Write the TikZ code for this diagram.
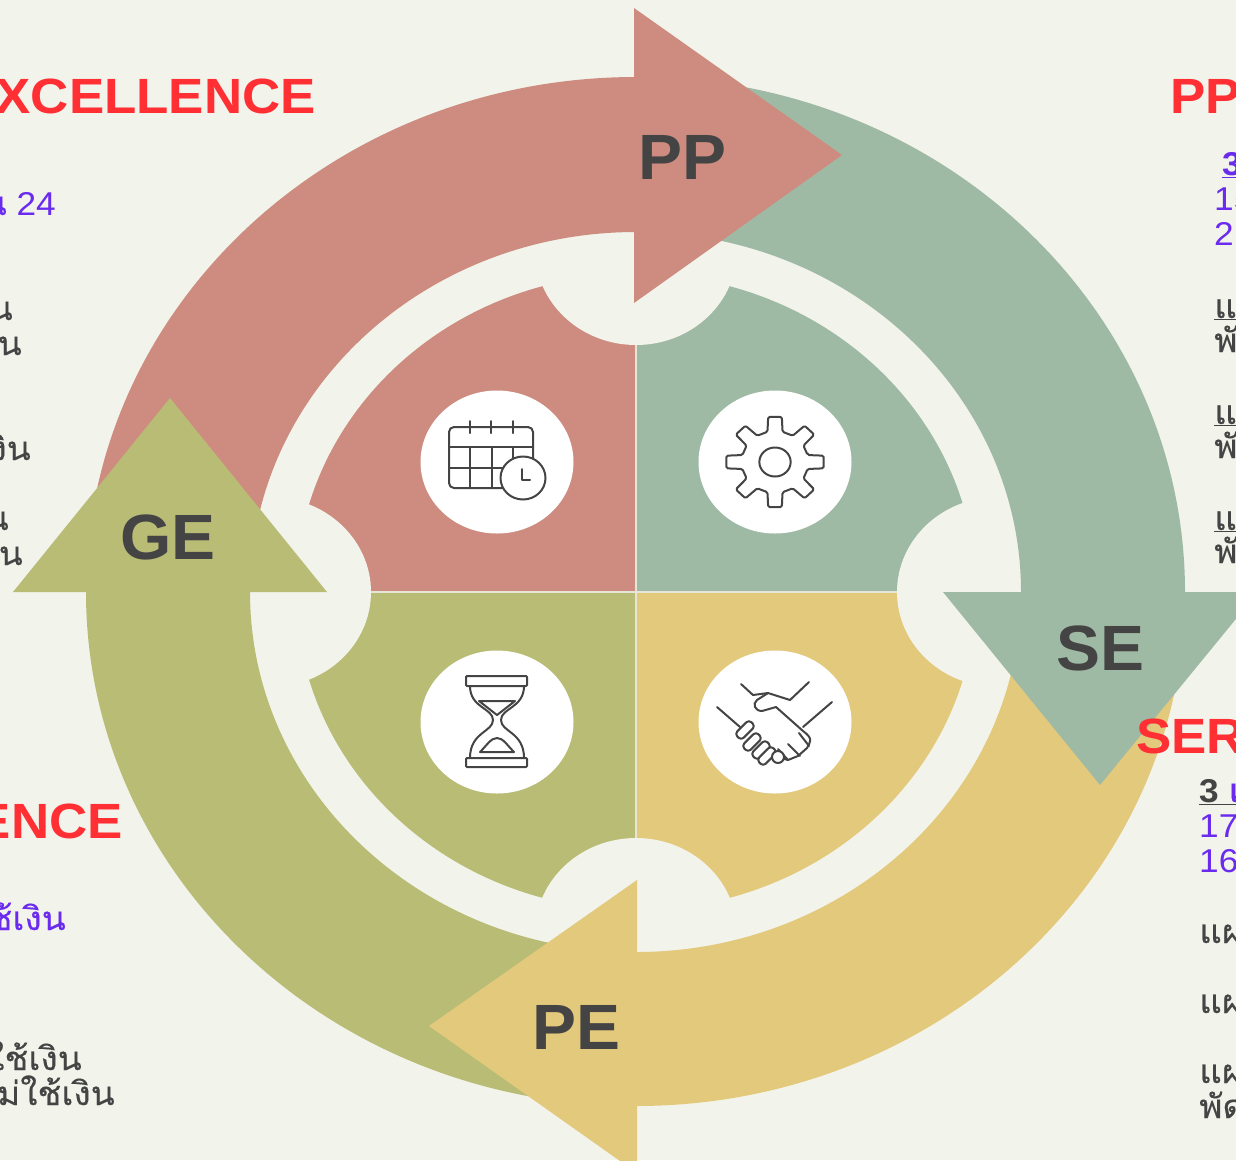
\documentclass[tikz,border=0pt]{standalone}
\usepackage{fontspec}
\usepackage{graphicx}
\setmainfont{Liberation Sans}
\newfontfamily\thaifont[Script=Thai,FakeBold=0.25]{Loma}
\definecolor{bgc}{HTML}{F2F3EB}
\definecolor{pinkc}{HTML}{CD8C7F}
\definecolor{greenc}{HTML}{9FBAA4}
\definecolor{yellowc}{HTML}{E3C97C}
\definecolor{olivec}{HTML}{B9BC75}
\definecolor{redc}{HTML}{FF2F33}
\definecolor{purplec}{HTML}{6A2BEF}
\definecolor{darkc}{HTML}{444444}
\definecolor{linec}{HTML}{E6E6D6}
\newcommand{\wideT}[1]{\scalebox{1.068}[1]{#1}}
\newcommand{\wideL}[1]{\scalebox{1.03}[1]{#1}}
\newcommand{\titlefs}{\fontsize{49.5}{49.5}\selectfont\bfseries}
\newcommand{\bodyfs}{\fontsize{33}{33}\selectfont}
\newcommand{\thaifs}{\fontsize{33}{33}\selectfont\thaifont}
\tikzset{
  titletext/.style={inner sep=0pt,text=redc,font=\titlefs},
  bodyp/.style={inner sep=0pt,text=purplec,font=\bodyfs},
  bodyd/.style={inner sep=0pt,text=darkc,font=\thaifs},
  biglabel/.style={inner sep=0pt,text=darkc,font=\fontsize{64}{64}\selectfont\bfseries},
  iconline/.style={draw=darkc,line width=2pt,line join=round,line cap=round},
  whitedisc/.style={fill=white,draw=none}
}
\begin{document}
\begin{tikzpicture}[x=1pt,y=-1pt]
\useasboundingbox (0,0) rectangle (1236,1160);
\clip (0,0) rectangle (1236,1160);
\fill[bgc] (0,0) rectangle (1236,1160);
% inner quadrants
\fill[pinkc] (636,592) -- (636,274) arc[start angle=90,end angle=180,x radius=340pt,y radius=318pt] -- cycle;
\fill[greenc] (636,592) -- (636,274) arc[start angle=90,end angle=0,x radius=340pt,y radius=318pt] -- cycle;
\fill[yellowc] (636,592) -- (636,910) arc[start angle=-90,end angle=0,x radius=340pt,y radius=318pt] -- cycle;
\fill[olivec] (636,592) -- (636,910) arc[start angle=-90,end angle=-180,x radius=340pt,y radius=318pt] -- cycle;
\draw[linec,line width=2pt] (636,274) -- (636,910) (296,592) -- (976,592);
% notches
\fill[bgc] (636,250) ellipse[x radius=101pt,y radius=95pt];
\fill[bgc] (636,933) ellipse[x radius=101pt,y radius=95pt];
\fill[bgc] (270,592) ellipse[x radius=101pt,y radius=95pt];
\fill[bgc] (998,592) ellipse[x radius=101pt,y radius=95pt];
% bands
\fill[pinkc] (636,77) arc[start angle=90,end angle=180,x radius=550pt,y radius=515pt] -- (250,592) arc[start angle=180,end angle=90,x radius=386pt,y radius=360pt] -- cycle;
\fill[greenc] (636,77) arc[start angle=90,end angle=0,x radius=549pt,y radius=515pt] -- (1021,592) arc[start angle=0,end angle=90,x radius=385pt,y radius=360pt] -- cycle;
\fill[yellowc] (1185,592) arc[start angle=0,end angle=-90,x radius=549pt,y radius=514pt] -- (636,952) arc[start angle=-90,end angle=0,x radius=385pt,y radius=360pt] -- cycle;
\fill[olivec] (86,592) arc[start angle=180,end angle=270,x radius=550pt,y radius=514pt] -- (636,952) arc[start angle=270,end angle=180,x radius=386pt,y radius=360pt] -- cycle;
% arrow heads
\fill[pinkc] (634,8) -- (842,155) -- (634,303) -- cycle;
\fill[greenc] (943,592) -- (1258,592) -- (1100,785) -- cycle;
\fill[yellowc] (637,880) -- (429,1026) -- (637,1173) -- cycle;
\fill[olivec] (13,592) -- (327,592) -- (170,398) -- cycle;
% arrow labels
\node[biglabel] (pp) at (682,157) {\wideL{PP}};
\node[biglabel] (se) at (1100,648) {\wideL{SE}};
\node[biglabel] (pe) at (576,1027) {\wideL{PE}};
\node[biglabel] (ge) at (168,537) {\wideL{GE}};
% discs
\fill[whitedisc] (497,462) ellipse[x radius=76.5pt,y radius=71.5pt];
\fill[whitedisc] (775,462) ellipse[x radius=76.5pt,y radius=71.5pt];
\fill[whitedisc] (497,722) ellipse[x radius=76.5pt,y radius=71.5pt];
\fill[whitedisc] (775,722) ellipse[x radius=76.5pt,y radius=71.5pt];
% calendar icon
\draw[iconline,rounded corners=5pt] (449,427) rectangle (533,488);
\draw[iconline] (449,447) -- (533,447) (449,468) -- (533,468)
  (470,447) -- (470,488) (492,447) -- (492,488) (513,447) -- (513,488)
  (470,421) -- (470,433) (491,421) -- (491,433) (513,421) -- (513,433);
\draw[iconline,fill=white] (523,478) ellipse[x radius=22.5pt,y radius=21.5pt];
\draw[iconline] (522,469) -- (522,480) -- (530,480);
% gear icon
\begin{scope}[shift={(775,462)},xscale=1.08]
\draw[iconline,rounded corners=1.5pt] (-13:31)
  \foreach \a in {0,45,...,315}{ -- (\a-13:31) -- (\a-8:45.5) -- (\a+8:45.5) -- (\a+13:31) } -- cycle;
\draw[iconline] (0,0) circle[radius=14.5pt];
\end{scope}
% hourglass icon
\draw[iconline,rounded corners=1pt] (466,676) rectangle (527,686);
\draw[iconline,rounded corners=1pt] (466,758) rectangle (527,767);
\draw[iconline] (470,686) .. controls (470,708) and (493,708) .. (493,720) .. controls (493,732) and (470,732) .. (470,758);
\draw[iconline] (524,686) .. controls (524,708) and (501,708) .. (501,720) .. controls (501,732) and (524,732) .. (524,758);
\draw[iconline,line join=round] (479,701) -- (515,701) -- (497,715) -- cycle;
\draw[iconline] (480,752) .. controls (487,745) and (491,738) .. (497,738) .. controls (503,738) and (507,745) .. (514,752) -- cycle;
% handshake icon
\draw[iconline] (717,707) -- (740,727) (832,702) -- (803,727);
\draw[iconline] (741,684) -- (753,695) -- (768,693) -- (790,700) -- (809,682);
\draw[iconline] (768,693) -- (757,700) .. controls (752,704) and (755,711) .. (762,711) -- (776,707) -- (803,731)
  .. controls (814,739) and (810,742) .. (807,748) -- (798,756) -- (788,760) -- (781,758);
\draw[iconline] (799,733) -- (809,746) (788,744) -- (800,756) (778,749) -- (788,760);
\foreach \px/\py in {745/730,752/742,761/750,767/756}{
  \draw[iconline,fill=white,rounded corners=3.5pt,shift={(\px,\py)},rotate=45] (-10,-4.5) rectangle (10,4.5);
}
\draw[iconline,fill=white] (778,757) ellipse[x radius=6pt,y radius=6pt];
% left top text
\node[titletext,anchor=base east] (t1) at (316,113) {\wideT{XCELLENCE}};
\node[bodyp,anchor=base east] (t2) at (56,215) {\wideT{{\thaifs น} 24}};
\node[bodyd,anchor=base east] (t3) at (13,320) {\wideT{น}};
\node[bodyd,anchor=base east] (t4) at (22,355) {\wideT{น}};
\node[bodyd,anchor=base east] (t5) at (31,460) {\wideT{งิน}};
\node[bodyd,anchor=base east] (t6) at (9,530) {\wideT{น}};
\node[bodyd,anchor=base east] (t7) at (23,565) {\wideT{งิน}};
% left bottom text
\node[titletext,anchor=base east] (t8) at (123,838) {\wideT{ENCE}};
\node[bodyd,text=purplec,anchor=base east] (t9) at (66,930) {\wideT{ช้เงิน}};
\node[bodyd,anchor=base east] (t10) at (82,1070) {\wideT{ใช้เงิน}};
\node[bodyd,anchor=base east] (t11) at (115,1105) {\wideT{ไม่ใช้เงิน}};
% right top text
\node[titletext,anchor=base west] (t12) at (1170,113) {\wideT{PP}};
\node[bodyp,anchor=base west,font=\bodyfs\bfseries] (t13) at (1222,175) {\wideT{\underline{3}}};
\node[bodyp,anchor=base west] (t14) at (1214,210) {\wideT{15}};
\node[bodyp,anchor=base west] (t15) at (1214,245) {\wideT{2}};
\node[bodyd,anchor=base west] (t16) at (1214,318) {\wideT{\underline{แ}}};
\node[bodyd,anchor=base west] (t17) at (1214,352) {\wideT{พั}};
\node[bodyd,anchor=base west] (t18) at (1214,424) {\wideT{\underline{แ}}};
\node[bodyd,anchor=base west] (t19) at (1214,458) {\wideT{พั}};
\node[bodyd,anchor=base west] (t20) at (1214,530) {\wideT{\underline{แ}}};
\node[bodyd,anchor=base west] (t21) at (1214,563) {\wideT{พั}};
% right bottom text
\node[titletext,anchor=base west] (t22) at (1136,753) {\wideT{SER}};
\node[bodyd,anchor=base west,font=\bodyfs\bfseries] (t23) at (1199,802) {\wideT{\underline{3 \textcolor{purplec}{\thaifont แ}}}};
\node[bodyp,anchor=base west] (t24) at (1199,837) {\wideT{17}};
\node[bodyp,anchor=base west] (t25) at (1199,872) {\wideT{16}};
\node[bodyd,anchor=base west] (t26) at (1199,943) {\wideT{แผ}};
\node[bodyd,anchor=base west] (t27) at (1199,1013) {\wideT{แผ}};
\node[bodyd,anchor=base west] (t28) at (1199,1083) {\wideT{แผ}};
\node[bodyd,anchor=base west] (t29) at (1199,1118) {\wideT{พัด}};
\end{tikzpicture}
\end{document}
